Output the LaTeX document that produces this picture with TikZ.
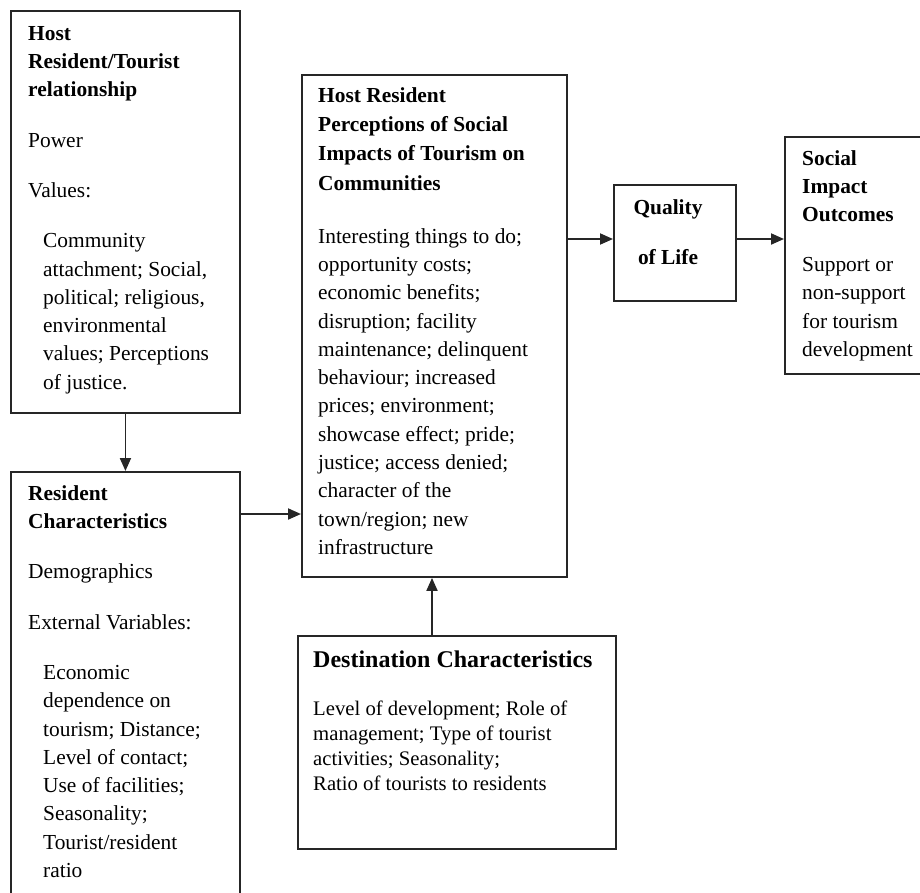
\documentclass[tikz,border=0pt]{standalone}
\usepackage{fontspec}
\setmainfont{Liberation Serif}
\usetikzlibrary{arrows.meta}
\newcommand{\firstline}{\rule{0pt}{16pt}}
\begin{document}
\begin{tikzpicture}[x=1pt,y=-1pt,
  box/.style={draw=black!85, line width=1.9pt, inner sep=0pt, anchor=north west},
  txt/.style={anchor=north west, inner sep=0pt, align=left, font=\fontsize{21.4}{28.3}\selectfont},
  arr/.style={draw=black!85, line width=1.9pt, -{Triangle[length=13pt,width=11pt]}},
]
\useasboundingbox (0,0) rectangle (920,892);
\clip (0,0) rectangle (920,892);

% frames
\node[box, minimum width=229pt, minimum height=402pt] (rt) at (10,10) {};
\node[box, minimum width=229pt, minimum height=460pt] (rc) at (10,471) {};
\node[box, minimum width=265pt, minimum height=502pt] (hp) at (301,74) {};
\node[box, minimum width=122pt, minimum height=116pt] (ql) at (613,184) {};
\node[box, minimum width=160pt, minimum height=237pt] (so) at (784,136) {};
\node[box, minimum width=318pt, minimum height=213pt] (dc) at (297,635) {};

% host resident / tourist relationship
\node[txt] (rt-text) at (28,24) {\firstline\textbf{Host}\\
\textbf{Resident/Tourist}\\
\textbf{relationship}\\[22pt]
Power\\[22pt]
Values:\\[22pt]
\hspace*{15pt}Community\\
\hspace*{15pt}attachment; Social,\\
\hspace*{15pt}political; religious,\\
\hspace*{15pt}environmental\\
\hspace*{15pt}values; Perceptions\\
\hspace*{15pt}of justice.};

% resident characteristics
\node[txt] (rc-text) at (28,484) {\firstline\textbf{Resident}\\
\textbf{Characteristics}\\[22pt]
Demographics\\[22pt]
External Variables:\\[22pt]
\hspace*{15pt}Economic\\
\hspace*{15pt}dependence on\\
\hspace*{15pt}tourism; Distance;\\
\hspace*{15pt}Level of contact;\\
\hspace*{15pt}Use of facilities;\\
\hspace*{15pt}Seasonality;\\
\hspace*{15pt}Tourist/resident\\
\hspace*{15pt}ratio};

% perceptions of social impacts
\node[txt] (hp-text) at (318,86) {\firstline\textbf{Host Resident}\\[1pt]
\textbf{Perceptions of Social}\\[1pt]
\textbf{Impacts of Tourism on}\\[1pt]
\textbf{Communities}\\[24.7pt]
Interesting things to do;\\
opportunity costs;\\
economic benefits;\\
disruption; facility\\
maintenance; delinquent\\
behaviour; increased\\
prices; environment;\\
showcase effect; pride;\\
justice; access denied;\\
character of the\\
town/region; new\\
infrastructure};

% quality of life
\node[txt, anchor=north, align=center] (ql-text) at (668,198) {\firstline\textbf{Quality}\\[21.7pt]\textbf{of Life}};

% social impact outcomes
\node[txt] (so-text) at (802,149) {\firstline\textbf{Social}\\
\textbf{Impact}\\
\textbf{Outcomes}\\[21.5pt]
Support or\\
non-support\\
for tourism\\
development};

% destination characteristics
\node[txt, font=\fontsize{24}{28}\selectfont\bfseries] (dc-head) at (313,651) {\firstline Destination Characteristics};
\node[txt, font=\fontsize{20.7}{25}\selectfont] (dc-text) at (313,699) {\firstline Level of development; Role of\\
management; Type of tourist\\
activities; Seasonality;\\
Ratio of tourists to residents};

% connectors
\draw[arr] (rt.south) -- (rc.north);
\path (rc.north east) ++(0,43) coordinate (rcout);
\draw[arr] (rcout) -- (rcout -| hp.west);
\path (hp.north east) ++(0,165) coordinate (hpout);
\draw[arr] (hpout) -- (hpout -| ql.west);
\path (ql.north east) ++(0,55) coordinate (qlout);
\draw[arr] (qlout) -- (qlout -| so.west);
\path (dc.north west) ++(135,0) coordinate (dcout);
\draw[arr] (dcout) -- (dcout |- hp.south);
\end{tikzpicture}
\end{document}
